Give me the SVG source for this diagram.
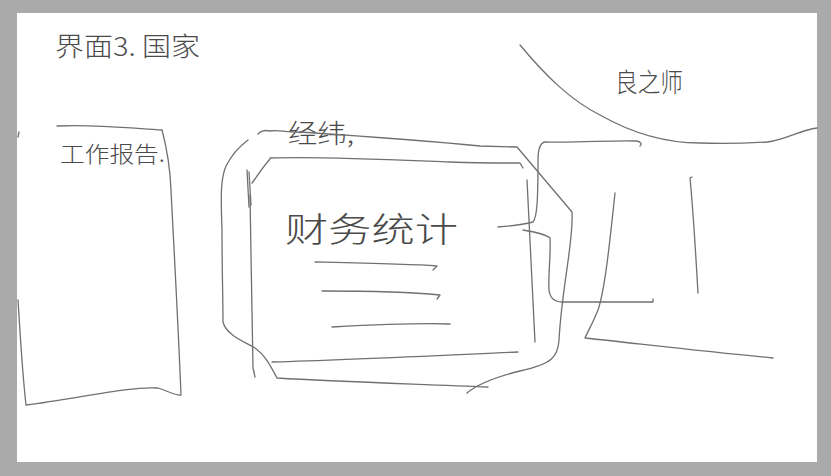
<svg xmlns="http://www.w3.org/2000/svg" width="831" height="476" viewBox="0 0 831 476">
<style>
.s{fill:none;stroke:#707070;stroke-width:1.3;stroke-linecap:round;stroke-linejoin:round}
.t{font-family:"Noto Sans CJK SC","Liberation Sans",sans-serif;fill:#4a4a4a;font-weight:300}
</style>
<rect x="0" y="0" width="831" height="476" fill="#aaaaaa"/>
<rect x="17" y="13" width="800" height="449" fill="#ffffff"/>
<g id="title">
<text class="t" x="55" y="56" font-size="26" textLength="145" lengthAdjust="spacingAndGlyphs">界面3. 国家</text>
</g>
<g id="panel-left">
<path class="s" d="M57,126 C90,124 130,128 162,130 C166,145 170,165 171,190 C174,250 178,320 181,395 C176,396 168,391 158,388 C130,386 80,398 26,405 C22,370 20,330 18,300"/>
<path class="s" d="M19,132 L18,137"/>
<text class="t" x="60" y="162" font-size="22" textLength="105" lengthAdjust="spacingAndGlyphs">工作报告.</text>
</g>
<g id="panel-middle">
<text class="t" x="288" y="143" font-size="26" textLength="66" lengthAdjust="spacingAndGlyphs">经纬,</text>
<path class="s" d="M258,134 C262,130 266,130 270,131 C278,129 286,133 300,132 C360,136 420,140 480,146 L517,147 L572,212 C574,240 562,285 559,340 C558,357 552,364 520,371 C500,376 480,382 467,393"/>
<path class="s" d="M248,140 C240,146 232,154 226,166 C220,180 221,200 222,230 C222,270 223,300 223,322 C226,335 245,342 255,348 C265,355 270,365 277,378 C340,382 420,384 488,387"/>
<path class="s" d="M270,158 C320,156 400,160 450,162 C480,163 505,163 520,163 L523,168"/>
<path class="s" d="M270,159 C262,168 256,178 252,183"/>
<path class="s" d="M247,170 L249,207 M249,172 L251,205"/>
<path class="s" d="M250,195 C251,250 252,320 253,368 L255,377"/>
<path class="s" d="M272,362 C350,360 450,355 518,352"/>
<path class="s" d="M527,180 C530,250 533,300 535,342"/>
<text class="t" x="285" y="242" font-size="34" textLength="173" lengthAdjust="spacingAndGlyphs">财务统计</text>
<path class="s" d="M315,262 C360,263 410,264 437,266 L433,270"/>
<path class="s" d="M322,291 C365,291 410,292 440,295 L437,299"/>
<path class="s" d="M332,327 C370,325 420,323 450,324"/>
</g>
<g id="panel-right">
<path class="s" d="M615,193 C610,240 605,290 598,310 C592,325 587,333 585,338 C650,345 710,352 773,358"/>
<path class="s" d="M692,177 L690,178 C694,220 696,260 698,293"/>
</g>
<g id="arc">
<path class="s" d="M520,45 C545,75 570,100 600,115 C630,132 665,143 700,143 C730,144 750,143 767,142 C785,140 800,130 817,128"/>
<text class="t" x="615" y="92" font-size="26" textLength="68" lengthAdjust="spacingAndGlyphs">良之师</text>
</g>
<g id="connectors">
<path class="s" d="M498,227 C510,226 525,224 533,222 C537,218 538,200 538,160 C538,148 540,143 545,142 C580,143 610,140 637,141 C641,142 642,144 640,146"/>
<path class="s" d="M523,230 C535,232 545,234 550,238 C551,255 548,275 549,290 C550,298 555,302 562,302 L653,302 L653,299"/>
</g>
</svg>
